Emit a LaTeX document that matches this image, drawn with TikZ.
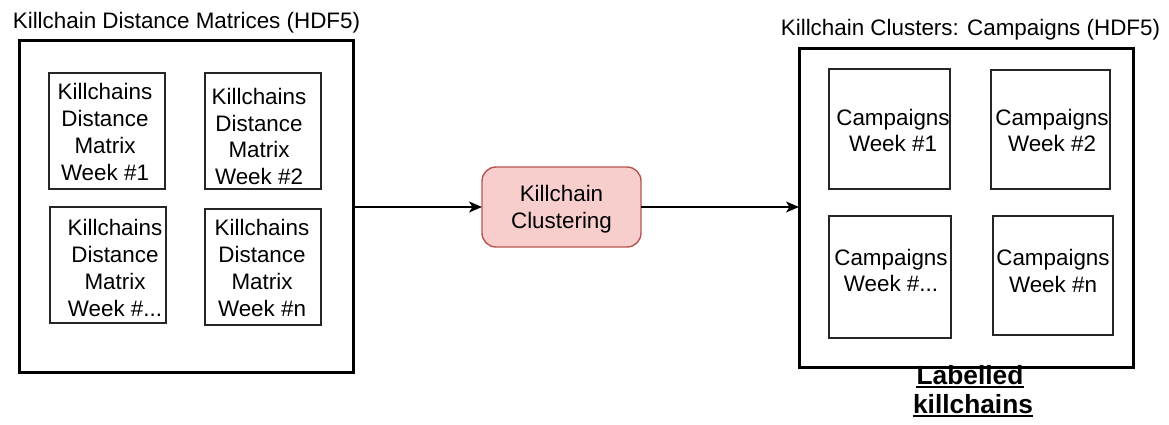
\documentclass[tikz,border=0pt]{standalone}
\usepackage{fontspec}
\setmainfont{Liberation Sans}
\usetikzlibrary{arrows.meta}
\definecolor{clusfill}{HTML}{F8CECC}
\definecolor{clusdraw}{HTML}{B85450}
\begin{document}
\begin{tikzpicture}[x=1pt,y=-1pt,
  outerbox/.style={draw=black, line width=3pt, inner sep=0, outer sep=0},
  inbox/.style={draw=black!85, line width=1.4pt, inner sep=0, outer sep=0},
  txt/.style={align=center, inner sep=0, font=\fontsize{22.4}{26.7}\selectfont},
  boldtxt/.style={inner sep=0, font=\fontsize{26.3}{30}\selectfont\bfseries},
  procbox/.style={draw=clusdraw, fill=clusfill, line width=1.4pt, rounded corners=14pt,
    inner sep=0, outer sep=0},
  arr/.style={line width=1.4pt, -{Stealth[length=13pt,width=11pt,inset=3.5pt]}}]
\useasboundingbox (0,0) rectangle (1169,425);

% left container: distance matrices
\node[outerbox, minimum width=334pt, minimum height=331pt] (lefto) at (186,206.5) {};
\node[txt] (lefttitle) at (186.5,23) {Killchain Distance Matrices (HDF5)};
\node[inbox, minimum width=116pt, minimum height=116pt] (a1) at (107,131) {};
\node[inbox, minimum width=116pt, minimum height=116pt] (a2) at (263,131) {};
\node[inbox, minimum width=116pt, minimum height=116pt] (a3) at (108,265) {};
\node[inbox, minimum width=116pt, minimum height=116pt] (a4) at (263,267) {};
\node[txt] (a1t) at (105,132) {Killchains\\Distance\\Matrix\\Week \#1};
\node[txt] (a2t) at (259,136.5) {Killchains\\Distance\\Matrix\\Week \#2};
\node[txt] (a3t) at (115,268) {Killchains\\Distance\\Matrix\\Week \#...};
\node[txt] (a4t) at (262,268) {Killchains\\Distance\\Matrix\\Week \#n};

% clustering step
\node[procbox, minimum width=159pt, minimum height=80pt] (clus) at (561.5,207) {};
\node[txt] (clust) at (561.5,209.5) {Killchain\\Clustering};

% right container: campaigns
\node[outerbox, minimum width=334pt, minimum height=318pt] (righto) at (966,208) {};
\node[txt] (righttitle) at (970.5,30) {Killchain Clusters: Campaigns (HDF5)};
\node[inbox, minimum width=121pt, minimum height=120pt] (b1) at (889.5,129) {};
\node[inbox, minimum width=119pt, minimum height=119pt] (b2) at (1050.5,129.5) {};
\node[inbox, minimum width=122pt, minimum height=122pt] (b3) at (890,277) {};
\node[inbox, minimum width=120pt, minimum height=119pt] (b4) at (1053,275.5) {};
\node[txt] (b1t) at (893,130.5) {Campaigns\\Week \#1};
\node[txt] (b2t) at (1052,130.5) {Campaigns\\Week \#2};
\node[txt] (b3t) at (891,270.5) {Campaigns\\Week \#...};
\node[txt] (b4t) at (1053,271) {Campaigns\\Week \#n};

% caption below the campaigns
\node[boldtxt, anchor=base] (lab1) at (970,384) {Labelled};
\node[boldtxt, anchor=base] (lab2) at (973,413) {killchains};
\draw[line width=2pt] ([yshift=-3pt]lab1.base west) -- ([yshift=-3pt]lab1.base east);
\draw[line width=2pt] ([yshift=-3pt]lab2.base west) -- ([yshift=-3pt]lab2.base east);

% connectors
\draw[arr] (lefto.east |- clus.west) -- (clus.west);
\draw[arr] (clus.east) -- (clus.east -| righto.west);
\end{tikzpicture}
\end{document}
